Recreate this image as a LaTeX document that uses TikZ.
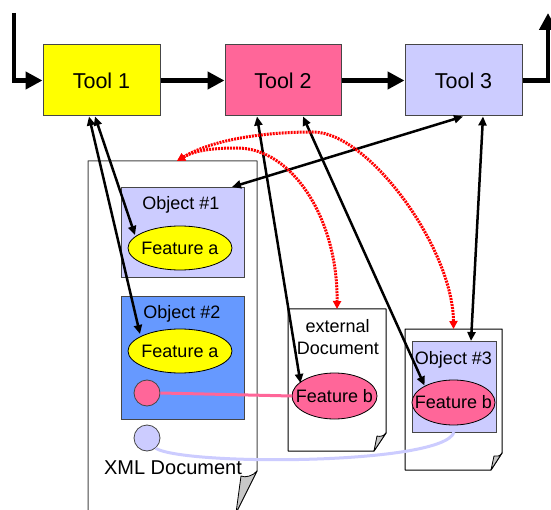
\documentclass[tikz,border=0pt]{standalone}
\usepackage{fontspec}
\setmainfont{Liberation Sans}
\usetikzlibrary{arrows.meta,calc,shapes.geometric}
\definecolor{toolyellow}{RGB}{255,255,0}
\definecolor{rosepink}{RGB}{255,102,153}
\definecolor{lavender}{RGB}{204,204,255}
\definecolor{cornflower}{RGB}{102,153,255}
\definecolor{foldgrey}{RGB}{200,200,200}
\definecolor{edgegrey}{RGB}{70,70,70}
\newcommand{\ctrtext}[1]{\makebox[0pt]{#1}}
\begin{document}
\begin{tikzpicture}[x=1pt,y=-1pt,
  toolbox/.style={draw=edgegrey, line width=1pt, minimum width=117pt, minimum height=71pt,
    inner sep=0pt, font=\fontsize{21.5}{24}\selectfont},
  docframe/.style={inner sep=0pt, outer sep=0pt, draw=none},
  docline/.style={draw=black, fill=white, line width=1pt, line join=round},
  foldline/.style={draw=black, fill=foldgrey, line width=0.8pt, line join=round},
  objbox/.style={draw=edgegrey, line width=0.9pt, inner sep=0pt, outer sep=0pt},
  feat/.style={ellipse, draw=black, line width=0.8pt, inner sep=0pt, outer sep=0pt,
    minimum width=104pt, minimum height=44pt, font=\fontsize{18}{20}\selectfont},
  dot/.style={circle, draw=edgegrey, line width=0.8pt, minimum size=26pt, inner sep=0pt},
  lbl/.style={inner sep=0pt, anchor=base, font=\fontsize{18}{20}\selectfont},
  flow/.style={line width=4.5pt, -{Triangle[length=17pt,width=17pt]}},
  link/.style={line width=2.5pt, {Triangle[length=9pt,width=8pt]}-{Triangle[length=9pt,width=8pt]}},
  reflink/.style={red, line width=3pt, dash pattern=on 2pt off 1pt,
    {Triangle[length=8pt,width=8pt]}-{Triangle[length=8pt,width=8pt]}},
  tie/.style={line width=3pt}
]
\clip (0,0) rectangle (551,510);
\fill[white] (0,0) rectangle (551,510);

% tool chain
\node[toolbox, fill=toolyellow] (t1) at (101.5,80.5) {Tool 1};
\node[toolbox, fill=rosepink, minimum width=116pt] (t2) at (283,80.5) {Tool 2};
\node[toolbox, fill=lavender] (t3) at (463.5,80.5) {Tool 3};
\coordinate (in0) at (14,13);
\coordinate (out0) at (548,13);
\draw[flow] (in0) |- (t1.west);
\draw[flow] (t1) -- (t2);
\draw[flow] (t2) -- (t3);
\draw[flow] (t3.east) -| (out0);

% documents (pages with folded corner)
\node[docframe, minimum width=169pt, minimum height=352pt] (xml) at (172.5,337) {};
\draw[docline, draw=edgegrey] (xml.north west) -- (xml.north east) -- ($(xml.south east)+(0,-42)$)
  -- ($(xml.south east)+(-21,0)$) -- (xml.south west) -- cycle;
\draw[foldline] ($(xml.south east)+(0,-42)$) .. controls +(-4,5) and +(4,2) .. ($(xml.south east)+(-16,-37)$)
  -- ($(xml.south east)+(-21,0)$) -- cycle;

\node[docframe, minimum width=98pt, minimum height=142pt] (ext) at (337,380) {};
\draw[docline] (ext.north west) -- (ext.north east) -- ($(ext.south east)+(0,-18)$)
  -- ($(ext.south east)+(-12,0)$) -- (ext.south west) -- cycle;
\draw[foldline] ($(ext.south east)+(0,-18)$) .. controls +(-2,3) and +(3,1) .. ($(ext.south east)+(-9,-15)$)
  -- ($(ext.south east)+(-12,0)$) -- cycle;

\node[docframe, minimum width=97pt, minimum height=141pt] (o3doc) at (453.5,399.5) {};
\draw[docline] (o3doc.north west) -- (o3doc.north east) -- ($(o3doc.south east)+(0,-17)$)
  -- ($(o3doc.south east)+(-11,0)$) -- (o3doc.south west) -- cycle;
\draw[foldline] ($(o3doc.south east)+(0,-17)$) .. controls +(-2,3) and +(3,1) .. ($(o3doc.south east)+(-8,-14)$)
  -- ($(o3doc.south east)+(-11,0)$) -- cycle;

% objects
\node[objbox, fill=lavender, minimum width=123pt, minimum height=90pt] (o1) at (182.5,232) {};
\node[objbox, fill=cornflower, minimum width=123pt, minimum height=123pt] (o2) at (182.5,357.5) {};
\node[objbox, fill=lavender, minimum width=84pt, minimum height=91pt] (o3) at (454,386.5) {};

% features and reference dots
\node[feat, fill=toolyellow] (fa1) at (180,248) {\ctrtext{Feature a}};
\node[feat, fill=toolyellow] (fa2) at (180,351) {\ctrtext{Feature a}};
\node[feat, fill=rosepink, minimum width=85pt, minimum height=46pt] (fbx) at (334.5,396) {\ctrtext{Feature b}};
\node[feat, fill=rosepink, minimum width=83pt, minimum height=45pt] (fb3) at (453.5,402.5) {\ctrtext{Feature b}};
\node[dot, fill=rosepink] (pc) at (147,393) {};
\node[dot, fill=lavender] (lc) at (147,438) {};

% labels
\node[lbl] (o1lbl) at (181,210) {Object \#1};
\node[lbl] (o2lbl) at (182,319) {Object \#2};
\node[lbl] (o3lbl) at (453.5,364) {Object \#3};
\node[lbl] (extlbla) at (337.7,332) {external};
\node[lbl] (extlblb) at (337.8,354) {Document};
\node[lbl, font=\fontsize{20}{22}\selectfont] (xmllbl) at (173,474) {XML Document};

% reference ties
\draw[tie, rosepink] (pc.east) -- (fbx.west);
\draw[tie, lavender] (lc.-50) .. controls (185,466) and (445,465) .. (o3.south);

% tool to element links
\draw[link] ($(t1.south)+(-12.5,0)$) -- ($(fa2.center)+(-40,-17)$);
\draw[link] ($(t1.south)+(-6.5,0)$) -- ($(fa1.center)+(-45,-13)$);
\draw[link] ($(t2.south)+(-26,0)$) -- ($(fbx.center)+(-34,-13)$);
\draw[link] ($(t2.south)+(20,0)$) -- ($(fb3.center)+(-29,-17)$);
\draw[link] ($(t3.south)+(-0.5,0)$) -- ($(o1.north east)+(-12,0)$);
\draw[link] ($(t3.south)+(19.5,0)$) -- ($(o3.north)+(17,0)$);

% document references
\draw[reflink] ($(xml.north)+(4.5,0)$) .. controls (195,150) and (215,148) .. (237,148)
  .. controls (293,148) and (338,220) .. (ext.north);
\draw[reflink] ($(xml.north)+(4.5,0)$) .. controls (215,138) and (270,132) .. (313,132)
  .. controls (369,132) and (453,249) .. (o3doc.north);
\end{tikzpicture}
\end{document}
